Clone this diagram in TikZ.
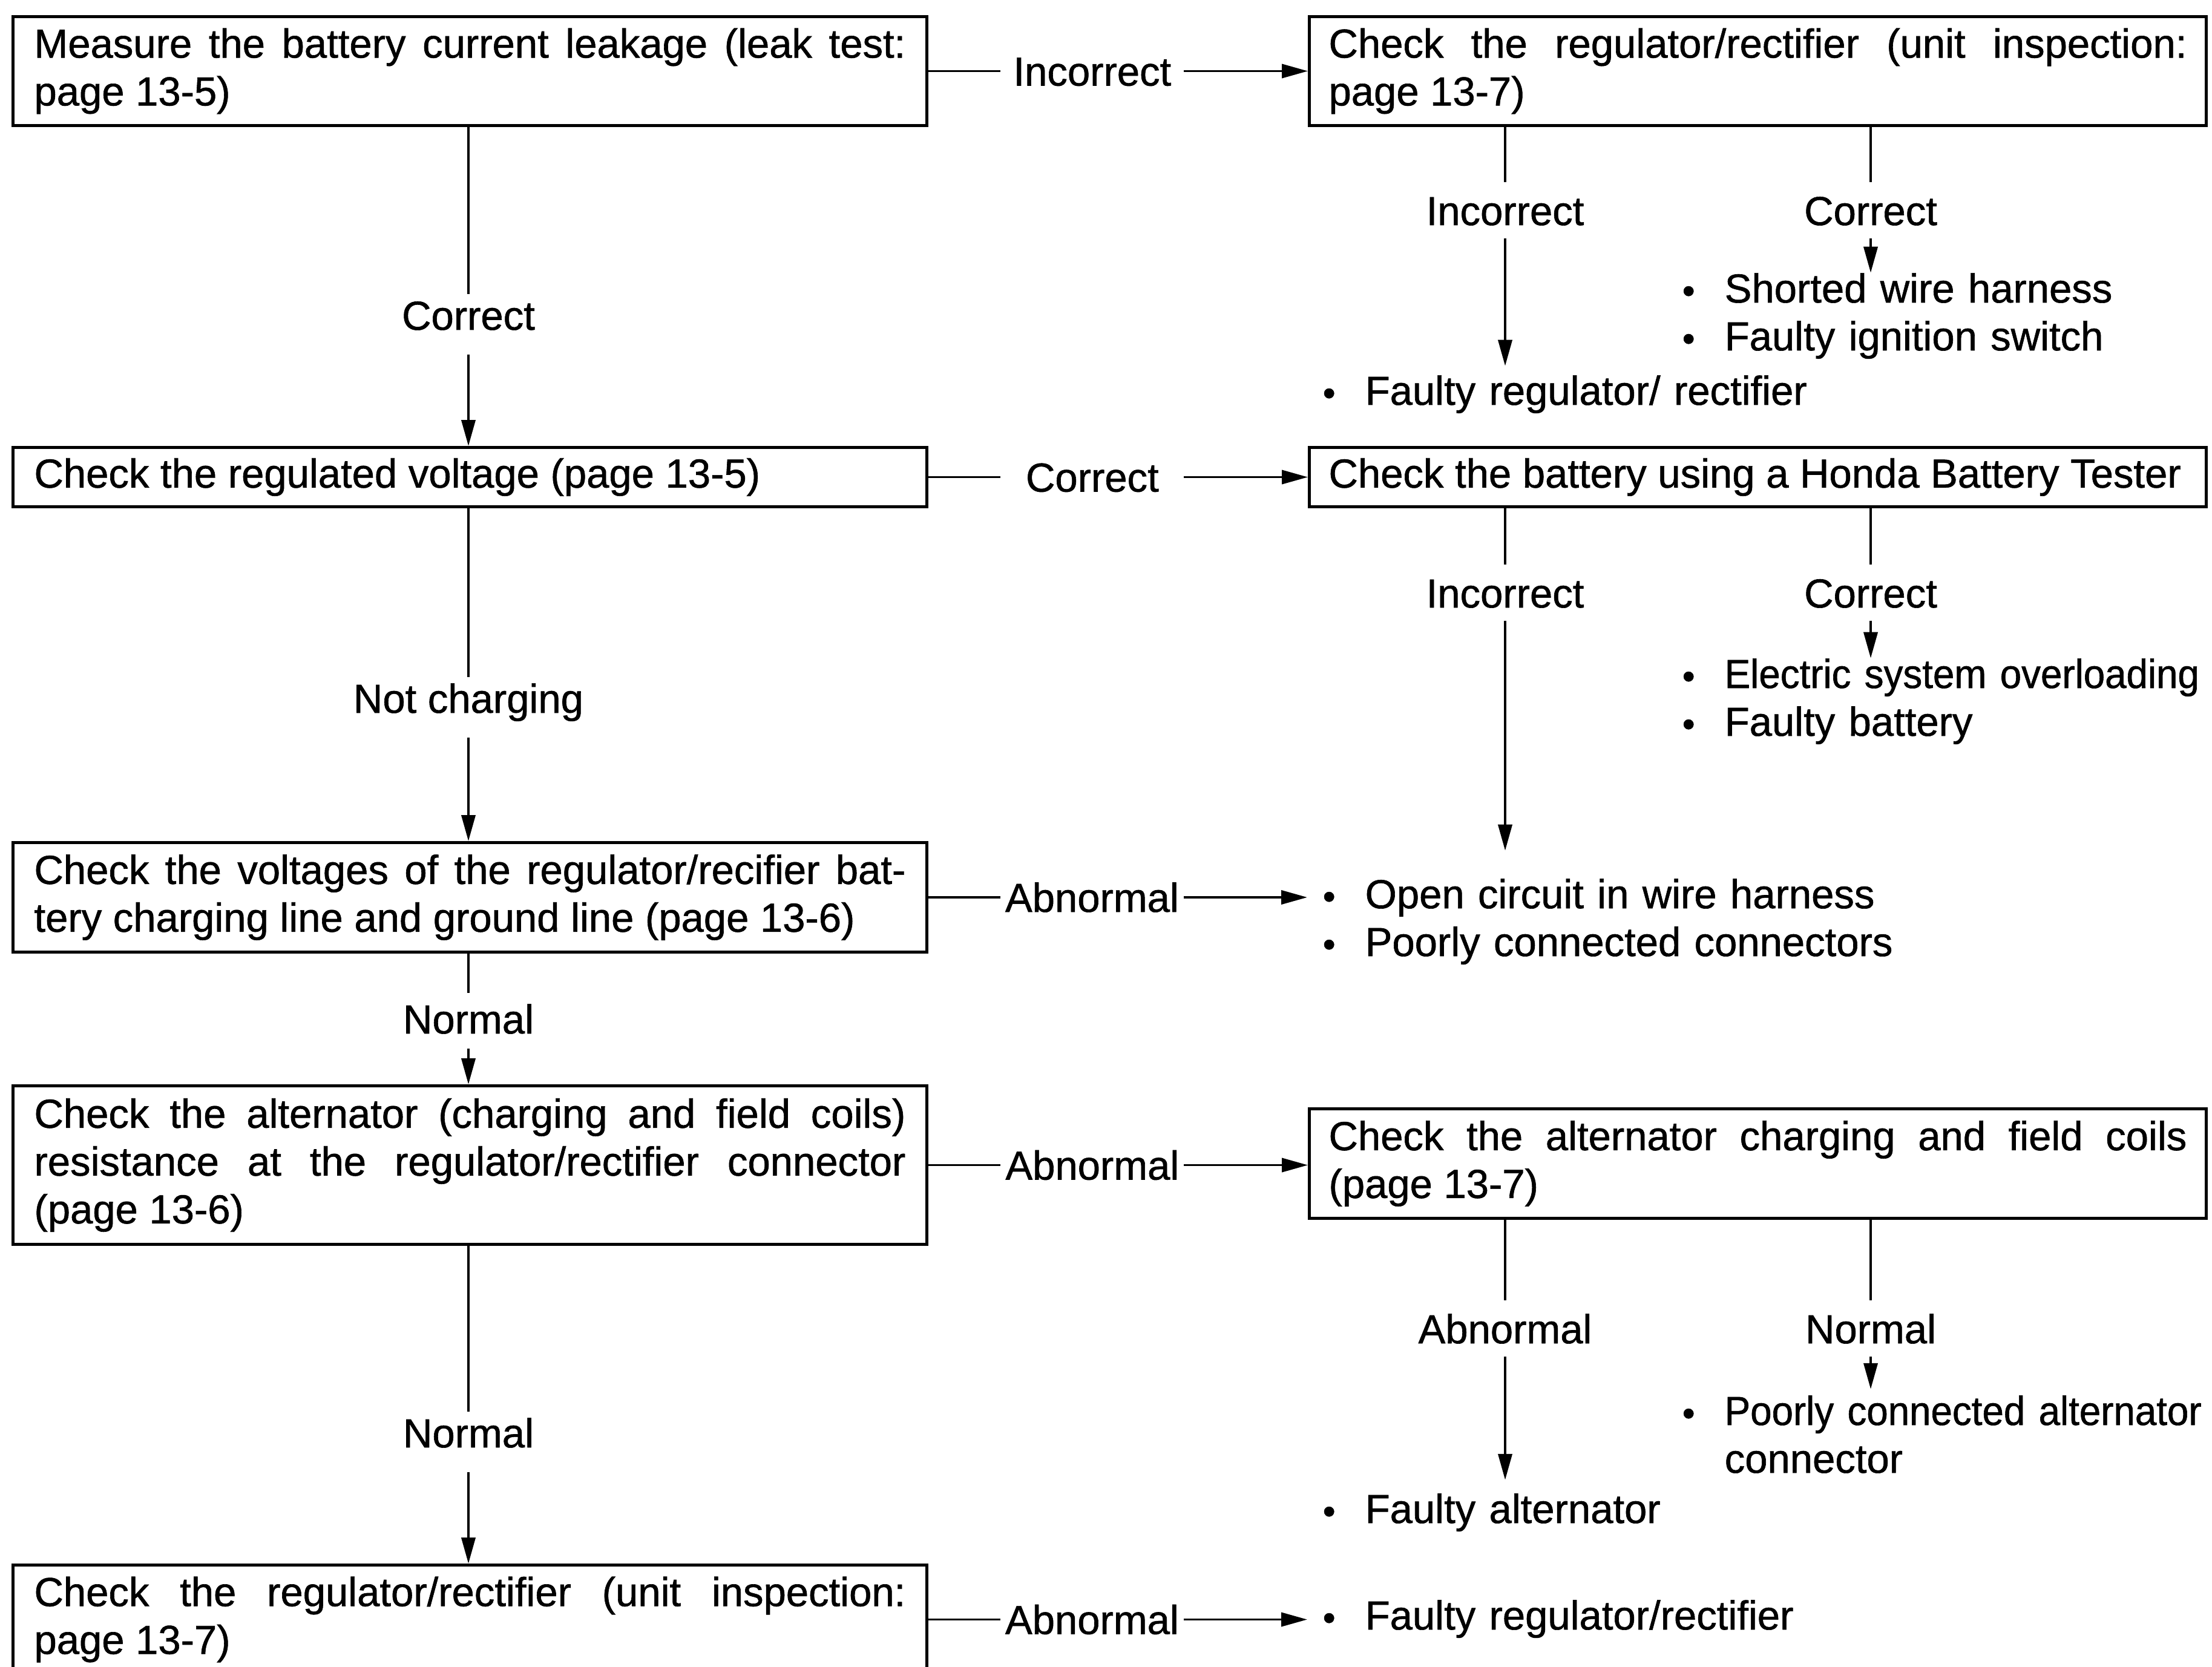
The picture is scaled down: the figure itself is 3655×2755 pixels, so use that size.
\documentclass[tikz,border=0pt]{standalone}
\usepackage{fontspec}
\setmainfont[FakeBold=0.9]{Liberation Sans}
\newfontfamily\narrowf[FakeBold=0.9,FakeStretch=0.95]{Liberation Sans}
\usetikzlibrary{arrows.meta}
\newcommand\ff{\fontsize{19.07pt}{22.48pt}\selectfont}
\newcommand\bul{\makebox[7mm][l]{\raisebox{-0.1mm}{\fontsize{17pt}{17pt}\selectfont\char"2022}}}
\begin{document}
\begin{tikzpicture}[x=0.1mm, y=-0.1mm,
 every node/.style={font=\ff},
 box/.style={draw, line width=0.5mm, anchor=north west, align=justify, inner ysep=0pt},
 lbox/.style={box, text width=144mm, inner xsep=3.5mm},
 rbox/.style={box, text width=141.8mm, inner xsep=3.2mm},
 conn/.style={line width=0.38mm},
 arr/.style={conn, -{Triangle[length=4.3mm,width=2.3mm]}},
 hlab/.style={fill=white, minimum width=30.3mm, inner xsep=0pt, inner ysep=1mm, text height=4.8mm, text depth=0pt},
 mlab/.style={inner sep=0pt, text height=5.8mm, text depth=4mm, anchor=base},
 rlab/.style={inner sep=0pt, text height=7mm, text depth=2.1mm, anchor=base},
 list/.style={anchor=base west, text width=110mm, align=left, inner xsep=2.5mm, inner ysep=0pt},
]
\fill[white] (0,0) rectangle (3655,2755);
\useasboundingbox (0,0) rectangle (3655,2755);

% left column boxes
\node[lbox, minimum height=18mm] (b1) at (19,25)
 {Measure the battery current leakage (leak test:\linebreak page 13-5)};
\node[lbox, minimum height=9.8mm] (b2) at (19,737)
 {Check the regulated voltage (page 13-5)};
\node[lbox, minimum height=18.1mm] (b3) at (19,1390)
 {Check the voltages of the regulator/recifier bat-\linebreak tery charging line and ground line (page 13-6)};
\node[lbox, minimum height=26.2mm] (b4) at (19,1792)
 {Check the alternator (charging and field coils)\linebreak resistance at the regulator/rectifier connector\linebreak (page 13-6)};
\node[lbox, minimum height=18mm] (b5) at (19,2584)
 {Check the regulator/rectifier (unit inspection:\linebreak page 13-7)};

% right column boxes
\node[rbox, minimum height=18mm] (r1) at (2161,25)
 {Check the regulator/rectifier (unit inspection:\linebreak page 13-7)};
\node[rbox, minimum height=9.8mm] (r2) at (2161,737)
 {\mbox{Check the battery using a Honda Battery Tester}};
\node[rbox, minimum height=18.1mm] (r3) at (2161,1830)
 {Check the alternator charging and field coils\linebreak (page 13-7)};

% main column labels
\node[mlab] (c1) at (774,545) {Correct};
\node[mlab] (c2) at (774,1178) {Not charging};
\node[mlab, text height=6.6mm, text depth=2.4mm] (c3) at (774,1708) {Normal};
\node[mlab] (c4) at (774,2392) {Normal};

% right column labels
\node[rlab] (ri1) at (2487,372) {Incorrect};
\node[rlab] (rc1) at (3091,372) {Correct};
\node[rlab] (ri2) at (2487,1004) {Incorrect};
\node[rlab] (rc2) at (3091,1004) {Correct};
\node[rlab] (ra3) at (2487,2220) {Abnormal};
\node[rlab] (rn3) at (3091,2220) {Normal};

% result lists
\node[list] (f1) at (2160,669) {\bul Faulty regulator/ rectifier};
\node[list] (f2) at (2754,500) {\bul Shorted wire harness\\\bul Faulty ignition switch};
\node[list] (f3) at (2754,1137) {\bul {\narrowf Electric system overloading}\\\bul Faulty battery};
\node[list] (f4) at (2160,1501) {\bul Open circuit in wire harness\\\bul Poorly connected connectors};
\node[list] (f5) at (2160,2517) {\bul Faulty alternator};
\node[list] (f6) at (2754,2355) {\bul {\narrowf Poorly connected alternator}\\\hspace*{7mm}connector};
\node[list] (f7) at (2160,2693) {\bul Faulty regulator/rectifier};

% main column connectors
\draw[conn] (c1 |- b1.south) -- (c1.north);
\draw[arr] (c1.south) -- (c1 |- b2.north);
\draw[conn] (c2 |- b2.south) -- (c2.north);
\draw[arr] (c2.south) -- (c2 |- b3.north);
\draw[conn] (c3 |- b3.south) -- (c3.north);
\draw[arr] (c3.south) -- (c3 |- b4.north);
\draw[conn] (c4 |- b4.south) -- (c4.north);
\draw[arr] (c4.south) -- (c4 |- b5.north);

% horizontal connectors
\draw[arr] (b1.east) -- node[hlab, pos=0.432] {Incorrect} (b1.east -| r1.west);
\draw[arr] (b2.east) -- node[hlab, pos=0.432] {Correct} (b2.east -| r2.west);
\draw[arr] (b3.east) -- node[hlab, pos=0.432] {Abnormal} (b3.east -| f4.west);
\draw[arr] (b4.east) -- node[hlab, pos=0.432] {Abnormal} (b4.east -| r3.west);
\draw[arr] (b5.east) -- node[hlab, pos=0.432] {Abnormal} (b5.east -| f7.west);

% right column connectors
\draw[conn] (ri1 |- r1.south) -- (ri1.north);
\draw[arr, shorten >=1.5mm] (ri1.south) -- (ri1.south |- f1.north);
\draw[conn] (rc1 |- r1.south) -- (rc1.north);
\draw[arr] (rc1.south) -- (rc1.south |- f2.north);
\draw[conn] (ri2 |- r2.south) -- (ri2.north);
\draw[arr, shorten >=4.6mm] (ri2.south) -- (ri2.south |- f4.north);
\draw[conn] (rc2 |- r2.south) -- (rc2.north);
\draw[arr] (rc2.south) -- (rc2.south |- f3.north);
\draw[conn] (ra3 |- r3.south) -- (ra3.north);
\draw[arr, shorten >=2.2mm] (ra3.south) -- (ra3.south |- f5.north);
\draw[conn] (rn3 |- r3.south) -- (rn3.north);
\draw[arr, shorten >=1mm] (rn3.south) -- (rn3.south |- f6.north);
\end{tikzpicture}
\end{document}
